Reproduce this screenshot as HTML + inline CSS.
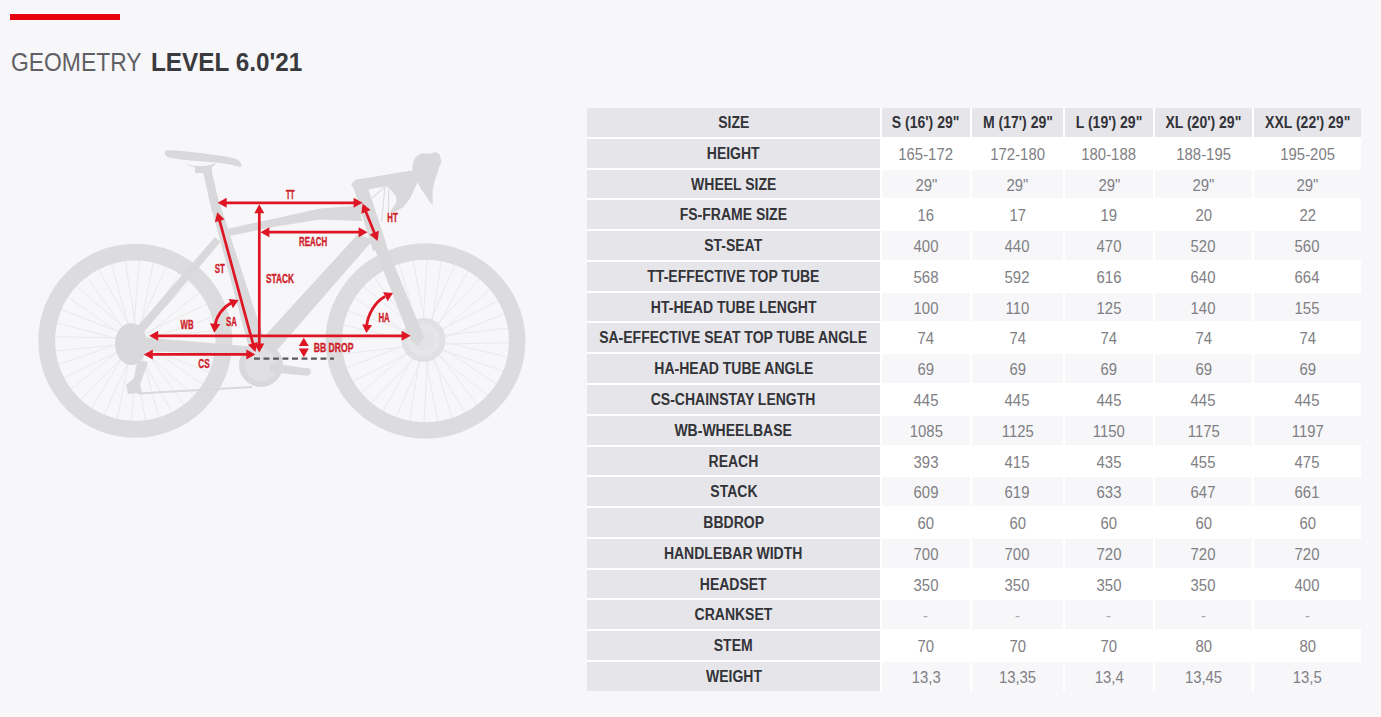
<!DOCTYPE html>
<html><head><meta charset="utf-8">
<style>
html,body{margin:0;padding:0;}
body{width:1381px;height:717px;background:#f7f7f9;position:relative;overflow:hidden;font-family:"Liberation Sans",sans-serif;}
.bar{position:absolute;left:10px;top:14px;width:110px;height:6px;background:#e9000f;}
.title{position:absolute;left:11px;top:44.7px;font-size:26px;line-height:34px;color:#3a3a3e;white-space:nowrap;}
.title .l{color:#606064}
.title .l{font-weight:400;display:inline-block;transform-origin:0 0;}
.title .b{font-weight:700;display:inline-block;transform-origin:0 0;position:absolute;}
.tbl{position:absolute;left:587px;top:108px;width:774px;height:582.8px;background:#ffffff;}
.c{position:absolute;display:flex;justify-content:center;white-space:nowrap;overflow:visible;}
.h{background:#e6e6ea;color:#333338;font-weight:700;font-size:16px;}
.g{background:#f7f7f9;color:#808084;font-size:15.6px;}
.w{background:#ffffff;color:#808084;font-size:15.6px;}
svg{position:absolute;left:0;top:0;}
</style></head><body>
<div class="bar"></div>
<div class="title"><span class="l" style="transform:scaleX(0.88)">GEOMETRY</span><span class="b" style="left:139.6px;transform:scaleX(0.935)">LEVEL 6.0'21</span></div>
<div class="tbl"></div>
<div class="c h" style="left:587px;top:108.00px;width:293px;height:28.78px;line-height:28.78px"><span style="display:inline-block;transform:translateY(1px) scaleX(0.875)">SIZE</span></div>
<div class="c h" style="left:882px;top:108.00px;width:88px;height:28.78px;line-height:28.78px"><span style="display:inline-block;transform:translateY(1px) scaleX(0.875)">S (16&#x27;) 29&quot;</span></div>
<div class="c h" style="left:972px;top:108.00px;width:91px;height:28.78px;line-height:28.78px"><span style="display:inline-block;transform:translateY(1px) scaleX(0.875)">M (17&#x27;) 29&quot;</span></div>
<div class="c h" style="left:1065px;top:108.00px;width:88px;height:28.78px;line-height:28.78px"><span style="display:inline-block;transform:translateY(1px) scaleX(0.875)">L (19&#x27;) 29&quot;</span></div>
<div class="c h" style="left:1155px;top:108.00px;width:97px;height:28.78px;line-height:28.78px"><span style="display:inline-block;transform:translateY(1px) scaleX(0.875)">XL (20&#x27;) 29&quot;</span></div>
<div class="c h" style="left:1254px;top:108.00px;width:107px;height:28.78px;line-height:28.78px"><span style="display:inline-block;transform:translateY(1px) scaleX(0.875)">XXL (22&#x27;) 29&quot;</span></div>
<div class="c h" style="left:587px;top:138.78px;width:293px;height:28.78px;line-height:28.78px"><span style="display:inline-block;transform:translateY(1px) scaleX(0.875)">HEIGHT</span></div>
<div class="c w" style="left:882px;top:138.78px;width:88px;height:28.78px;line-height:28.78px"><span style="display:inline-block;transform:translateY(1.7px) scaleX(0.955)">165-172</span></div>
<div class="c w" style="left:972px;top:138.78px;width:91px;height:28.78px;line-height:28.78px"><span style="display:inline-block;transform:translateY(1.7px) scaleX(0.955)">172-180</span></div>
<div class="c w" style="left:1065px;top:138.78px;width:88px;height:28.78px;line-height:28.78px"><span style="display:inline-block;transform:translateY(1.7px) scaleX(0.955)">180-188</span></div>
<div class="c w" style="left:1155px;top:138.78px;width:97px;height:28.78px;line-height:28.78px"><span style="display:inline-block;transform:translateY(1.7px) scaleX(0.955)">188-195</span></div>
<div class="c w" style="left:1254px;top:138.78px;width:107px;height:28.78px;line-height:28.78px"><span style="display:inline-block;transform:translateY(1.7px) scaleX(0.955)">195-205</span></div>
<div class="c h" style="left:587px;top:169.56px;width:293px;height:28.78px;line-height:28.78px"><span style="display:inline-block;transform:translateY(1px) scaleX(0.875)">WHEEL SIZE</span></div>
<div class="c g" style="left:882px;top:169.56px;width:88px;height:28.78px;line-height:28.78px"><span style="display:inline-block;transform:translateY(1.7px) scaleX(0.955)">29&quot;</span></div>
<div class="c g" style="left:972px;top:169.56px;width:91px;height:28.78px;line-height:28.78px"><span style="display:inline-block;transform:translateY(1.7px) scaleX(0.955)">29&quot;</span></div>
<div class="c g" style="left:1065px;top:169.56px;width:88px;height:28.78px;line-height:28.78px"><span style="display:inline-block;transform:translateY(1.7px) scaleX(0.955)">29&quot;</span></div>
<div class="c g" style="left:1155px;top:169.56px;width:97px;height:28.78px;line-height:28.78px"><span style="display:inline-block;transform:translateY(1.7px) scaleX(0.955)">29&quot;</span></div>
<div class="c g" style="left:1254px;top:169.56px;width:107px;height:28.78px;line-height:28.78px"><span style="display:inline-block;transform:translateY(1.7px) scaleX(0.955)">29&quot;</span></div>
<div class="c h" style="left:587px;top:200.34px;width:293px;height:28.78px;line-height:28.78px"><span style="display:inline-block;transform:translateY(1px) scaleX(0.875)">FS-FRAME SIZE</span></div>
<div class="c w" style="left:882px;top:200.34px;width:88px;height:28.78px;line-height:28.78px"><span style="display:inline-block;transform:translateY(1.7px) scaleX(0.955)">16</span></div>
<div class="c w" style="left:972px;top:200.34px;width:91px;height:28.78px;line-height:28.78px"><span style="display:inline-block;transform:translateY(1.7px) scaleX(0.955)">17</span></div>
<div class="c w" style="left:1065px;top:200.34px;width:88px;height:28.78px;line-height:28.78px"><span style="display:inline-block;transform:translateY(1.7px) scaleX(0.955)">19</span></div>
<div class="c w" style="left:1155px;top:200.34px;width:97px;height:28.78px;line-height:28.78px"><span style="display:inline-block;transform:translateY(1.7px) scaleX(0.955)">20</span></div>
<div class="c w" style="left:1254px;top:200.34px;width:107px;height:28.78px;line-height:28.78px"><span style="display:inline-block;transform:translateY(1.7px) scaleX(0.955)">22</span></div>
<div class="c h" style="left:587px;top:231.12px;width:293px;height:28.78px;line-height:28.78px"><span style="display:inline-block;transform:translateY(1px) scaleX(0.875)">ST-SEAT</span></div>
<div class="c g" style="left:882px;top:231.12px;width:88px;height:28.78px;line-height:28.78px"><span style="display:inline-block;transform:translateY(1.7px) scaleX(0.955)">400</span></div>
<div class="c g" style="left:972px;top:231.12px;width:91px;height:28.78px;line-height:28.78px"><span style="display:inline-block;transform:translateY(1.7px) scaleX(0.955)">440</span></div>
<div class="c g" style="left:1065px;top:231.12px;width:88px;height:28.78px;line-height:28.78px"><span style="display:inline-block;transform:translateY(1.7px) scaleX(0.955)">470</span></div>
<div class="c g" style="left:1155px;top:231.12px;width:97px;height:28.78px;line-height:28.78px"><span style="display:inline-block;transform:translateY(1.7px) scaleX(0.955)">520</span></div>
<div class="c g" style="left:1254px;top:231.12px;width:107px;height:28.78px;line-height:28.78px"><span style="display:inline-block;transform:translateY(1.7px) scaleX(0.955)">560</span></div>
<div class="c h" style="left:587px;top:261.90px;width:293px;height:28.78px;line-height:28.78px"><span style="display:inline-block;transform:translateY(1px) scaleX(0.875)">TT-EFFECTIVE TOP TUBE</span></div>
<div class="c w" style="left:882px;top:261.90px;width:88px;height:28.78px;line-height:28.78px"><span style="display:inline-block;transform:translateY(1.7px) scaleX(0.955)">568</span></div>
<div class="c w" style="left:972px;top:261.90px;width:91px;height:28.78px;line-height:28.78px"><span style="display:inline-block;transform:translateY(1.7px) scaleX(0.955)">592</span></div>
<div class="c w" style="left:1065px;top:261.90px;width:88px;height:28.78px;line-height:28.78px"><span style="display:inline-block;transform:translateY(1.7px) scaleX(0.955)">616</span></div>
<div class="c w" style="left:1155px;top:261.90px;width:97px;height:28.78px;line-height:28.78px"><span style="display:inline-block;transform:translateY(1.7px) scaleX(0.955)">640</span></div>
<div class="c w" style="left:1254px;top:261.90px;width:107px;height:28.78px;line-height:28.78px"><span style="display:inline-block;transform:translateY(1.7px) scaleX(0.955)">664</span></div>
<div class="c h" style="left:587px;top:292.68px;width:293px;height:28.78px;line-height:28.78px"><span style="display:inline-block;transform:translateY(1px) scaleX(0.875)">HT-HEAD TUBE LENGHT</span></div>
<div class="c g" style="left:882px;top:292.68px;width:88px;height:28.78px;line-height:28.78px"><span style="display:inline-block;transform:translateY(1.7px) scaleX(0.955)">100</span></div>
<div class="c g" style="left:972px;top:292.68px;width:91px;height:28.78px;line-height:28.78px"><span style="display:inline-block;transform:translateY(1.7px) scaleX(0.955)">110</span></div>
<div class="c g" style="left:1065px;top:292.68px;width:88px;height:28.78px;line-height:28.78px"><span style="display:inline-block;transform:translateY(1.7px) scaleX(0.955)">125</span></div>
<div class="c g" style="left:1155px;top:292.68px;width:97px;height:28.78px;line-height:28.78px"><span style="display:inline-block;transform:translateY(1.7px) scaleX(0.955)">140</span></div>
<div class="c g" style="left:1254px;top:292.68px;width:107px;height:28.78px;line-height:28.78px"><span style="display:inline-block;transform:translateY(1.7px) scaleX(0.955)">155</span></div>
<div class="c h" style="left:587px;top:323.46px;width:293px;height:28.78px;line-height:28.78px"><span style="display:inline-block;transform:translateY(1px) scaleX(0.875)">SA-EFFECTIVE SEAT TOP TUBE ANGLE</span></div>
<div class="c w" style="left:882px;top:323.46px;width:88px;height:28.78px;line-height:28.78px"><span style="display:inline-block;transform:translateY(1.7px) scaleX(0.955)">74</span></div>
<div class="c w" style="left:972px;top:323.46px;width:91px;height:28.78px;line-height:28.78px"><span style="display:inline-block;transform:translateY(1.7px) scaleX(0.955)">74</span></div>
<div class="c w" style="left:1065px;top:323.46px;width:88px;height:28.78px;line-height:28.78px"><span style="display:inline-block;transform:translateY(1.7px) scaleX(0.955)">74</span></div>
<div class="c w" style="left:1155px;top:323.46px;width:97px;height:28.78px;line-height:28.78px"><span style="display:inline-block;transform:translateY(1.7px) scaleX(0.955)">74</span></div>
<div class="c w" style="left:1254px;top:323.46px;width:107px;height:28.78px;line-height:28.78px"><span style="display:inline-block;transform:translateY(1.7px) scaleX(0.955)">74</span></div>
<div class="c h" style="left:587px;top:354.24px;width:293px;height:28.78px;line-height:28.78px"><span style="display:inline-block;transform:translateY(1px) scaleX(0.875)">HA-HEAD TUBE ANGLE</span></div>
<div class="c g" style="left:882px;top:354.24px;width:88px;height:28.78px;line-height:28.78px"><span style="display:inline-block;transform:translateY(1.7px) scaleX(0.955)">69</span></div>
<div class="c g" style="left:972px;top:354.24px;width:91px;height:28.78px;line-height:28.78px"><span style="display:inline-block;transform:translateY(1.7px) scaleX(0.955)">69</span></div>
<div class="c g" style="left:1065px;top:354.24px;width:88px;height:28.78px;line-height:28.78px"><span style="display:inline-block;transform:translateY(1.7px) scaleX(0.955)">69</span></div>
<div class="c g" style="left:1155px;top:354.24px;width:97px;height:28.78px;line-height:28.78px"><span style="display:inline-block;transform:translateY(1.7px) scaleX(0.955)">69</span></div>
<div class="c g" style="left:1254px;top:354.24px;width:107px;height:28.78px;line-height:28.78px"><span style="display:inline-block;transform:translateY(1.7px) scaleX(0.955)">69</span></div>
<div class="c h" style="left:587px;top:385.02px;width:293px;height:28.78px;line-height:28.78px"><span style="display:inline-block;transform:translateY(1px) scaleX(0.875)">CS-CHAINSTAY LENGTH</span></div>
<div class="c w" style="left:882px;top:385.02px;width:88px;height:28.78px;line-height:28.78px"><span style="display:inline-block;transform:translateY(1.7px) scaleX(0.955)">445</span></div>
<div class="c w" style="left:972px;top:385.02px;width:91px;height:28.78px;line-height:28.78px"><span style="display:inline-block;transform:translateY(1.7px) scaleX(0.955)">445</span></div>
<div class="c w" style="left:1065px;top:385.02px;width:88px;height:28.78px;line-height:28.78px"><span style="display:inline-block;transform:translateY(1.7px) scaleX(0.955)">445</span></div>
<div class="c w" style="left:1155px;top:385.02px;width:97px;height:28.78px;line-height:28.78px"><span style="display:inline-block;transform:translateY(1.7px) scaleX(0.955)">445</span></div>
<div class="c w" style="left:1254px;top:385.02px;width:107px;height:28.78px;line-height:28.78px"><span style="display:inline-block;transform:translateY(1.7px) scaleX(0.955)">445</span></div>
<div class="c h" style="left:587px;top:415.80px;width:293px;height:28.78px;line-height:28.78px"><span style="display:inline-block;transform:translateY(1px) scaleX(0.875)">WB-WHEELBASE</span></div>
<div class="c g" style="left:882px;top:415.80px;width:88px;height:28.78px;line-height:28.78px"><span style="display:inline-block;transform:translateY(1.7px) scaleX(0.955)">1085</span></div>
<div class="c g" style="left:972px;top:415.80px;width:91px;height:28.78px;line-height:28.78px"><span style="display:inline-block;transform:translateY(1.7px) scaleX(0.955)">1125</span></div>
<div class="c g" style="left:1065px;top:415.80px;width:88px;height:28.78px;line-height:28.78px"><span style="display:inline-block;transform:translateY(1.7px) scaleX(0.955)">1150</span></div>
<div class="c g" style="left:1155px;top:415.80px;width:97px;height:28.78px;line-height:28.78px"><span style="display:inline-block;transform:translateY(1.7px) scaleX(0.955)">1175</span></div>
<div class="c g" style="left:1254px;top:415.80px;width:107px;height:28.78px;line-height:28.78px"><span style="display:inline-block;transform:translateY(1.7px) scaleX(0.955)">1197</span></div>
<div class="c h" style="left:587px;top:446.58px;width:293px;height:28.78px;line-height:28.78px"><span style="display:inline-block;transform:translateY(1px) scaleX(0.875)">REACH</span></div>
<div class="c w" style="left:882px;top:446.58px;width:88px;height:28.78px;line-height:28.78px"><span style="display:inline-block;transform:translateY(1.7px) scaleX(0.955)">393</span></div>
<div class="c w" style="left:972px;top:446.58px;width:91px;height:28.78px;line-height:28.78px"><span style="display:inline-block;transform:translateY(1.7px) scaleX(0.955)">415</span></div>
<div class="c w" style="left:1065px;top:446.58px;width:88px;height:28.78px;line-height:28.78px"><span style="display:inline-block;transform:translateY(1.7px) scaleX(0.955)">435</span></div>
<div class="c w" style="left:1155px;top:446.58px;width:97px;height:28.78px;line-height:28.78px"><span style="display:inline-block;transform:translateY(1.7px) scaleX(0.955)">455</span></div>
<div class="c w" style="left:1254px;top:446.58px;width:107px;height:28.78px;line-height:28.78px"><span style="display:inline-block;transform:translateY(1.7px) scaleX(0.955)">475</span></div>
<div class="c h" style="left:587px;top:477.36px;width:293px;height:28.78px;line-height:28.78px"><span style="display:inline-block;transform:translateY(1px) scaleX(0.875)">STACK</span></div>
<div class="c g" style="left:882px;top:477.36px;width:88px;height:28.78px;line-height:28.78px"><span style="display:inline-block;transform:translateY(1.7px) scaleX(0.955)">609</span></div>
<div class="c g" style="left:972px;top:477.36px;width:91px;height:28.78px;line-height:28.78px"><span style="display:inline-block;transform:translateY(1.7px) scaleX(0.955)">619</span></div>
<div class="c g" style="left:1065px;top:477.36px;width:88px;height:28.78px;line-height:28.78px"><span style="display:inline-block;transform:translateY(1.7px) scaleX(0.955)">633</span></div>
<div class="c g" style="left:1155px;top:477.36px;width:97px;height:28.78px;line-height:28.78px"><span style="display:inline-block;transform:translateY(1.7px) scaleX(0.955)">647</span></div>
<div class="c g" style="left:1254px;top:477.36px;width:107px;height:28.78px;line-height:28.78px"><span style="display:inline-block;transform:translateY(1.7px) scaleX(0.955)">661</span></div>
<div class="c h" style="left:587px;top:508.14px;width:293px;height:28.78px;line-height:28.78px"><span style="display:inline-block;transform:translateY(1px) scaleX(0.875)">BBDROP</span></div>
<div class="c w" style="left:882px;top:508.14px;width:88px;height:28.78px;line-height:28.78px"><span style="display:inline-block;transform:translateY(1.7px) scaleX(0.955)">60</span></div>
<div class="c w" style="left:972px;top:508.14px;width:91px;height:28.78px;line-height:28.78px"><span style="display:inline-block;transform:translateY(1.7px) scaleX(0.955)">60</span></div>
<div class="c w" style="left:1065px;top:508.14px;width:88px;height:28.78px;line-height:28.78px"><span style="display:inline-block;transform:translateY(1.7px) scaleX(0.955)">60</span></div>
<div class="c w" style="left:1155px;top:508.14px;width:97px;height:28.78px;line-height:28.78px"><span style="display:inline-block;transform:translateY(1.7px) scaleX(0.955)">60</span></div>
<div class="c w" style="left:1254px;top:508.14px;width:107px;height:28.78px;line-height:28.78px"><span style="display:inline-block;transform:translateY(1.7px) scaleX(0.955)">60</span></div>
<div class="c h" style="left:587px;top:538.92px;width:293px;height:28.78px;line-height:28.78px"><span style="display:inline-block;transform:translateY(1px) scaleX(0.875)">HANDLEBAR WIDTH</span></div>
<div class="c g" style="left:882px;top:538.92px;width:88px;height:28.78px;line-height:28.78px"><span style="display:inline-block;transform:translateY(1.7px) scaleX(0.955)">700</span></div>
<div class="c g" style="left:972px;top:538.92px;width:91px;height:28.78px;line-height:28.78px"><span style="display:inline-block;transform:translateY(1.7px) scaleX(0.955)">700</span></div>
<div class="c g" style="left:1065px;top:538.92px;width:88px;height:28.78px;line-height:28.78px"><span style="display:inline-block;transform:translateY(1.7px) scaleX(0.955)">720</span></div>
<div class="c g" style="left:1155px;top:538.92px;width:97px;height:28.78px;line-height:28.78px"><span style="display:inline-block;transform:translateY(1.7px) scaleX(0.955)">720</span></div>
<div class="c g" style="left:1254px;top:538.92px;width:107px;height:28.78px;line-height:28.78px"><span style="display:inline-block;transform:translateY(1.7px) scaleX(0.955)">720</span></div>
<div class="c h" style="left:587px;top:569.70px;width:293px;height:28.78px;line-height:28.78px"><span style="display:inline-block;transform:translateY(1px) scaleX(0.875)">HEADSET</span></div>
<div class="c w" style="left:882px;top:569.70px;width:88px;height:28.78px;line-height:28.78px"><span style="display:inline-block;transform:translateY(1.7px) scaleX(0.955)">350</span></div>
<div class="c w" style="left:972px;top:569.70px;width:91px;height:28.78px;line-height:28.78px"><span style="display:inline-block;transform:translateY(1.7px) scaleX(0.955)">350</span></div>
<div class="c w" style="left:1065px;top:569.70px;width:88px;height:28.78px;line-height:28.78px"><span style="display:inline-block;transform:translateY(1.7px) scaleX(0.955)">350</span></div>
<div class="c w" style="left:1155px;top:569.70px;width:97px;height:28.78px;line-height:28.78px"><span style="display:inline-block;transform:translateY(1.7px) scaleX(0.955)">350</span></div>
<div class="c w" style="left:1254px;top:569.70px;width:107px;height:28.78px;line-height:28.78px"><span style="display:inline-block;transform:translateY(1.7px) scaleX(0.955)">400</span></div>
<div class="c h" style="left:587px;top:600.48px;width:293px;height:28.78px;line-height:28.78px"><span style="display:inline-block;transform:translateY(1px) scaleX(0.875)">CRANKSET</span></div>
<div class="c g" style="left:882px;top:600.48px;width:88px;height:28.78px;line-height:28.78px"><span style="display:inline-block;transform:translateY(1.7px) scaleX(0.955);color:#acacb0">-</span></div>
<div class="c g" style="left:972px;top:600.48px;width:91px;height:28.78px;line-height:28.78px"><span style="display:inline-block;transform:translateY(1.7px) scaleX(0.955);color:#acacb0">-</span></div>
<div class="c g" style="left:1065px;top:600.48px;width:88px;height:28.78px;line-height:28.78px"><span style="display:inline-block;transform:translateY(1.7px) scaleX(0.955);color:#acacb0">-</span></div>
<div class="c g" style="left:1155px;top:600.48px;width:97px;height:28.78px;line-height:28.78px"><span style="display:inline-block;transform:translateY(1.7px) scaleX(0.955);color:#acacb0">-</span></div>
<div class="c g" style="left:1254px;top:600.48px;width:107px;height:28.78px;line-height:28.78px"><span style="display:inline-block;transform:translateY(1.7px) scaleX(0.955);color:#acacb0">-</span></div>
<div class="c h" style="left:587px;top:631.26px;width:293px;height:28.78px;line-height:28.78px"><span style="display:inline-block;transform:translateY(1px) scaleX(0.875)">STEM</span></div>
<div class="c w" style="left:882px;top:631.26px;width:88px;height:28.78px;line-height:28.78px"><span style="display:inline-block;transform:translateY(1.7px) scaleX(0.955)">70</span></div>
<div class="c w" style="left:972px;top:631.26px;width:91px;height:28.78px;line-height:28.78px"><span style="display:inline-block;transform:translateY(1.7px) scaleX(0.955)">70</span></div>
<div class="c w" style="left:1065px;top:631.26px;width:88px;height:28.78px;line-height:28.78px"><span style="display:inline-block;transform:translateY(1.7px) scaleX(0.955)">70</span></div>
<div class="c w" style="left:1155px;top:631.26px;width:97px;height:28.78px;line-height:28.78px"><span style="display:inline-block;transform:translateY(1.7px) scaleX(0.955)">80</span></div>
<div class="c w" style="left:1254px;top:631.26px;width:107px;height:28.78px;line-height:28.78px"><span style="display:inline-block;transform:translateY(1.7px) scaleX(0.955)">80</span></div>
<div class="c h" style="left:587px;top:662.04px;width:293px;height:28.78px;line-height:28.78px"><span style="display:inline-block;transform:translateY(1px) scaleX(0.875)">WEIGHT</span></div>
<div class="c g" style="left:882px;top:662.04px;width:88px;height:28.78px;line-height:28.78px"><span style="display:inline-block;transform:translateY(1.7px) scaleX(0.955)">13,3</span></div>
<div class="c g" style="left:972px;top:662.04px;width:91px;height:28.78px;line-height:28.78px"><span style="display:inline-block;transform:translateY(1.7px) scaleX(0.955)">13,35</span></div>
<div class="c g" style="left:1065px;top:662.04px;width:88px;height:28.78px;line-height:28.78px"><span style="display:inline-block;transform:translateY(1.7px) scaleX(0.955)">13,4</span></div>
<div class="c g" style="left:1155px;top:662.04px;width:97px;height:28.78px;line-height:28.78px"><span style="display:inline-block;transform:translateY(1.7px) scaleX(0.955)">13,45</span></div>
<div class="c g" style="left:1254px;top:662.04px;width:107px;height:28.78px;line-height:28.78px"><span style="display:inline-block;transform:translateY(1.7px) scaleX(0.955)">13,5</span></div>
<svg width="580" height="460" viewBox="0 0 580 460" style="position:absolute;left:0;top:0">
<path d="M141.7 343.5L217.2 344.9M142.2 339.9L215.2 359.1M140.4 345.6L210.9 372.7M142.1 342.4L204.2 385.3M138.5 347.0L195.4 396.6M141.2 344.6L184.8 406.2M136.2 347.7L172.7 413.8M139.5 346.4L159.5 419.2M133.7 347.6L145.5 422.2M137.4 347.5L131.2 422.7M131.5 346.7L117.0 420.7M135.0 347.8L103.4 416.4M129.7 345.0L90.8 409.7M132.6 347.3L79.5 400.9M128.6 342.9L69.9 390.3M130.5 345.9L62.3 378.2M128.3 340.4L56.9 365.0M129.1 344.0L53.9 351.0M128.9 338.1L53.4 336.7M128.4 341.7L55.4 322.5M130.2 336.0L59.7 308.9M128.5 339.2L66.4 296.3M132.1 334.6L75.2 285.0M129.4 337.0L85.8 275.4M134.4 333.9L97.9 267.8M131.1 335.2L111.1 262.4M136.9 334.0L125.1 259.4M133.2 334.1L139.4 258.9M139.1 334.9L153.6 260.9M135.6 333.8L167.2 265.2M140.9 336.6L179.8 271.9M138.0 334.3L191.1 280.7M142.0 338.7L200.7 291.3M140.1 335.7L208.3 303.4M142.3 341.2L213.7 316.6M141.5 337.6L216.7 330.6" stroke="#eaeaec" stroke-width="1" fill="none"/>
<path d="M433.9 344.3L508.5 342.7M434.4 339.6L506.9 357.0M432.3 346.9L502.9 370.9M434.3 342.7L496.5 383.9M429.8 348.9L488.0 395.6M433.2 345.6L477.6 405.6M426.9 349.9L465.6 413.7M431.2 348.0L452.3 419.5M423.8 349.8L438.3 423.0M428.4 349.5L423.8 424.0M420.8 348.7L409.5 422.4M425.3 350.0L395.6 418.4M418.5 346.6L382.6 412.0M422.3 349.4L370.9 403.5M417.0 343.9L360.9 393.1M419.6 347.8L352.8 381.1M416.5 340.8L347.0 367.8M417.6 345.4L343.5 353.8M417.1 337.7L342.5 339.3M416.6 342.4L344.1 325.0M418.7 335.1L348.1 311.1M416.7 339.3L354.5 298.1M421.2 333.1L363.0 286.4M417.8 336.4L373.4 276.4M424.1 332.1L385.4 268.3M419.8 334.0L398.7 262.5M427.2 332.2L412.7 259.0M422.6 332.5L427.2 258.0M430.2 333.3L441.5 259.6M425.7 332.0L455.4 263.6M432.5 335.4L468.4 270.0M428.7 332.6L480.1 278.5M434.0 338.1L490.1 288.9M431.4 334.2L498.2 300.9M434.5 341.2L504.0 314.2M433.4 336.6L507.5 328.2" stroke="#eaeaec" stroke-width="1" fill="none"/>
<circle cx="135.3" cy="340.8" r="88.6" stroke="#dcdcde" stroke-width="16.8" fill="none"/>
<ellipse cx="425.5" cy="341" rx="91.7" ry="89.4" stroke="#dcdcde" stroke-width="16.5" fill="none"/>
<circle cx="423.5" cy="340" r="19" stroke="#e1e1e3" stroke-width="6" fill="#e6e6e8"/>
<circle cx="423.5" cy="340" r="11" fill="#e3e3e5"/>
<path d="M203 172 L212 172 L221 212 L212 212 Z" fill="#d9d9db"/>
<path d="M166 150.5 C175 149.5 200 153 226 156.5 C236 158 241 161 241.8 165 L240.5 167 C232 165 222 162.8 212 162.2 C195 161.2 180 159.5 170 157.8 C165 157 163.5 152 166 150.5 Z" fill="#d9d9db"/>
<path d="M184 162 C190 167 205 168 216 163 L214 166 C205 170 192 169 184 162 Z" fill="#d9d9db"/>
<rect x="195" y="166" width="17" height="7" fill="#d9d9db"/>
<path d="M208 195 L217 195 L266 345 L250 352 Z" fill="#d9d9db"/>
<path d="M222 230 L275 218.5 L320 208.6 L360 205.5 L362 221 L320 219.5 L275 226.7 L225 237 Z" fill="#d9d9db"/>
<path d="M354 189 L367 185 L387 246 L373 251 Z" fill="#d9d9db"/>
<path d="M372 242 L384 240 L424 337 L418 346 L411 341 Z" fill="#d9d9db"/>
<path d="M358 234 L373 240 L272 356 L252 350 Z" fill="#d9d9db"/>
<path d="M215 237 L220.5 242 L144 332 L137 327 Z" fill="#d9d9db"/>
<path d="M140 337 L256 347 L257 355 L140 351 Z" fill="#d9d9db"/>
<ellipse cx="131" cy="344" rx="16" ry="21" fill="#d9d9db"/>
<path d="M138 360 L148 362 L140 385 L142 393 L128 394 L126 385 L134 378 Z" fill="#d9d9db"/>
<path d="M138 393.5 L252 387" stroke="#d9d9db" stroke-width="2" fill="none"/>
<circle cx="261" cy="365" r="19" stroke="#d9d9db" stroke-width="6" fill="#e0e0e2"/>
<path d="M270 363 L279.4 364.3 L307.8 368.5 L307.8 375.5 L304.5 375.5 L283.6 373.5 L270 372 Z" fill="#d9d9db"/>
<circle cx="307" cy="371.8" r="3.8" fill="#d9d9db"/>
<path d="M351 184 L356 179.5 L373 177 L395.5 173 L412 170.5 L418 169 L419 178 L416 185.5 L400 185 L385 186.5 L370 189 L357 194 Z" fill="#d9d9db"/>
<path d="M412 168 L414 160 L416.1 156.7 L421 153.3 L430.8 153.8 L434.7 151.8 L439.6 154.3 L441.5 161.6 L438.6 168.4 L437 174 L434 183 L432.5 192 L432.7 205 L429 201 L426 196 L421 189 L417.5 182 L416 176 Z" fill="#d9d9db"/>
<path d="M385 185 L391 190 L396 196 L396.5 202 L392 209 L390 212.5 L396 211.5 L403.5 207 L410 198.5 L414 190 L417 183 Z" fill="#d9d9db"/>
<path d="M371 199 L386 186 M385 186 L381.5 222 M389 186 L388 220" stroke="#dfdfe1" stroke-width="1.3" fill="none"/>
<path d="M224.80 202.80L355.40 202.80" stroke="#de1623" stroke-width="2.7" fill="none"/><path d="M217.60 202.80L226.60 197.80L226.60 207.80Z" fill="#de1623"/><path d="M362.60 202.80L353.60 207.80L353.60 197.80Z" fill="#de1623"/>
<path d="M259.30 211.40L259.30 345.40" stroke="#de1623" stroke-width="2.7" fill="none"/><path d="M259.30 204.20L264.30 213.20L254.30 213.20Z" fill="#de1623"/><path d="M259.30 352.60L254.30 343.60L264.30 343.60Z" fill="#de1623"/>
<path d="M267.60 232.20L360.40 232.20" stroke="#de1623" stroke-width="2.7" fill="none"/><path d="M260.40 232.20L269.40 227.20L269.40 237.20Z" fill="#de1623"/><path d="M367.60 232.20L358.60 237.20L358.60 227.20Z" fill="#de1623"/>
<path d="M365.28 210.28L374.92 234.32" stroke="#de1623" stroke-width="2.7" fill="none"/><path d="M362.60 203.60L370.59 210.09L361.31 213.81Z" fill="#de1623"/><path d="M377.60 241.00L369.61 234.51L378.89 230.79Z" fill="#de1623"/>
<path d="M219.19 219.15L253.41 345.05" stroke="#de1623" stroke-width="2.7" fill="none"/><path d="M217.30 212.20L224.49 219.57L214.84 222.20Z" fill="#de1623"/><path d="M255.30 352.00L248.11 344.63L257.76 342.00Z" fill="#de1623"/>
<path d="M156.40 335.80L403.40 335.80" stroke="#de1623" stroke-width="2.7" fill="none"/><path d="M149.20 335.80L158.20 330.80L158.20 340.80Z" fill="#de1623"/><path d="M410.60 335.80L401.60 340.80L401.60 330.80Z" fill="#de1623"/>
<path d="M151.00 354.40L248.10 354.40" stroke="#de1623" stroke-width="2.7" fill="none"/><path d="M143.80 354.40L152.80 349.40L152.80 359.40Z" fill="#de1623"/><path d="M255.30 354.40L246.30 359.40L246.30 349.40Z" fill="#de1623"/>
<path d="M303.8 337.7 L308.8 346 L298.8 346 Z M298.8 348.6 L308.8 348.6 L303.8 357.3 Z" fill="#de1623"/>
<path d="M254 358.7 L334 358.7" stroke="#58585c" stroke-width="2.2" stroke-dasharray="5.9 3.6" fill="none"/>
<path d="M215 326 C216 317 222 308 231 303" stroke="#de1623" stroke-width="2.8" fill="none"/>
<path d="M214.30 332.80L209.96 323.35L220.32 324.32Z" fill="#de1623"/>
<path d="M238.50 300.00L232.96 308.16L228.68 299.12Z" fill="#de1623"/>
<path d="M366.6 326 C368 314 375 302 385 296.5" stroke="#de1623" stroke-width="2.8" fill="none"/>
<path d="M366.30 333.10L362.16 324.15L372.11 325.13Z" fill="#de1623"/>
<path d="M393.00 293.00L387.63 301.27L383.16 292.33Z" fill="#de1623"/>
<text x="285.9" y="199" textLength="8.6" lengthAdjust="spacingAndGlyphs" font-family="Liberation Sans" font-weight="700" font-size="12" fill="#cf1d2a" stroke="#cf1d2a" stroke-width="0.35">TT</text>
<text x="299" y="245.5" textLength="28.1" lengthAdjust="spacingAndGlyphs" font-family="Liberation Sans" font-weight="700" font-size="12" fill="#cf1d2a" stroke="#cf1d2a" stroke-width="0.35">REACH</text>
<text x="387.3" y="222.3" textLength="10.4" lengthAdjust="spacingAndGlyphs" font-family="Liberation Sans" font-weight="700" font-size="12" fill="#cf1d2a" stroke="#cf1d2a" stroke-width="0.35">HT</text>
<text x="214.7" y="273.2" textLength="10.1" lengthAdjust="spacingAndGlyphs" font-family="Liberation Sans" font-weight="700" font-size="12" fill="#cf1d2a" stroke="#cf1d2a" stroke-width="0.35">ST</text>
<text x="266" y="283.2" textLength="28.0" lengthAdjust="spacingAndGlyphs" font-family="Liberation Sans" font-weight="700" font-size="12" fill="#cf1d2a" stroke="#cf1d2a" stroke-width="0.35">STACK</text>
<text x="180.6" y="329.3" textLength="13.0" lengthAdjust="spacingAndGlyphs" font-family="Liberation Sans" font-weight="700" font-size="12" fill="#cf1d2a" stroke="#cf1d2a" stroke-width="0.35">WB</text>
<text x="226" y="326.2" textLength="10.8" lengthAdjust="spacingAndGlyphs" font-family="Liberation Sans" font-weight="700" font-size="12" fill="#cf1d2a" stroke="#cf1d2a" stroke-width="0.35">SA</text>
<text x="378.4" y="322" textLength="11.3" lengthAdjust="spacingAndGlyphs" font-family="Liberation Sans" font-weight="700" font-size="12" fill="#cf1d2a" stroke="#cf1d2a" stroke-width="0.35">HA</text>
<text x="198.2" y="368.4" textLength="11.5" lengthAdjust="spacingAndGlyphs" font-family="Liberation Sans" font-weight="700" font-size="12" fill="#cf1d2a" stroke="#cf1d2a" stroke-width="0.35">CS</text>
<text x="313.7" y="351.5" textLength="39.9" lengthAdjust="spacingAndGlyphs" font-family="Liberation Sans" font-weight="700" font-size="12" fill="#cf1d2a" stroke="#cf1d2a" stroke-width="0.35">BB DROP</text>
</svg>
</body></html>
